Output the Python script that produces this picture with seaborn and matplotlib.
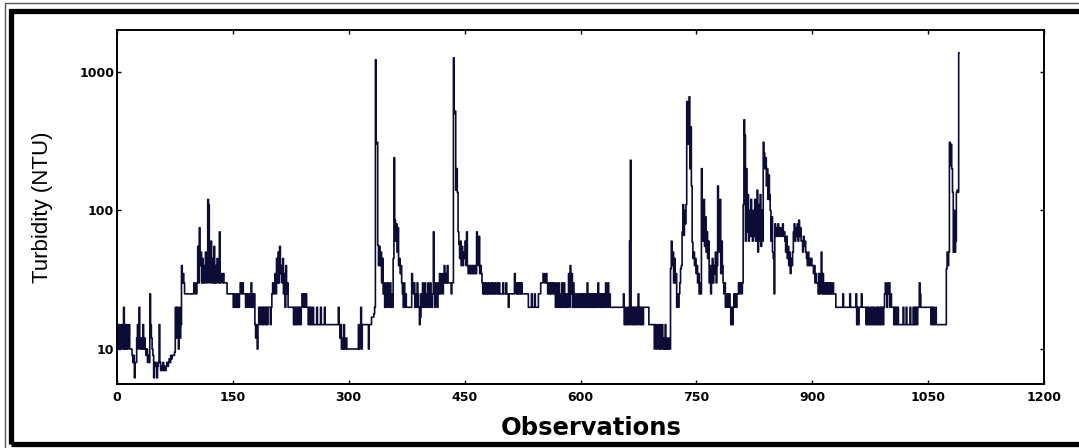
import numpy as np
import pandas as pd
import seaborn as sns
import matplotlib.pyplot as plt
from matplotlib.patches import Rectangle

# Turbidity readings (NTU) in blocks of observations
obs_000_103 = [10, 15, 10, 15, 10, 10, 15, 12, 10, 20, 10, 15, 10, 15, 10, 12, 15, 10, 10,
               10, 9, 8, 9, 6.2, 8, 8, 12, 15, 10, 20, 12,
               10, 12, 10, 15, 10, 12, 10, 9, 10, 8, 9, 8, 25, 15, 12, 10, 9,
               6.2, 8, 7.5, 8, 6.2, 7.5, 8, 15, 8, 7,
               7.5, 7, 8, 7, 7.5, 7, 7.5, 8, 7.5, 8, 8.5, 8, 9, 8.5, 9, 9, 9, 9.5,
               20, 12, 20, 15, 10, 20, 12, 15, 40, 30, 35, 30, 25,
               25, 25, 25, 25, 25, 25, 25, 25, 25, 25, 25, 30, 30, 25, 25]
obs_104_172 = [30, 55, 30, 75, 40, 50, 30, 45, 30, 40, 30, 50, 35,
               30, 120, 110, 30, 40, 60, 30, 45, 30, 55, 30,
               40, 30, 45, 35, 30, 70, 30, 35, 35, 30, 35, 30, 30, 30, 30,
               25, 25, 25, 25, 25, 25, 25, 25, 20, 25, 20, 20, 25, 20, 25, 20, 25,
               30, 30, 25, 30, 25, 25, 25, 20, 25, 20, 25, 25, 20]
obs_173_260 = [25, 30, 20, 25, 20, 25, 15, 12, 15, 10, 15,
               20, 15, 20, 20, 15, 20, 15, 20, 20, 15, 20, 15, 20, 20, 20, 15, 20,
               25, 30, 25, 30, 35, 25, 45, 30, 50, 30, 55, 35, 40,
               30, 45, 25, 35, 20, 40, 25, 30, 20, 20, 20, 20, 20, 20, 20,
               15, 20, 15, 20, 15, 20, 20, 15, 20, 15, 20, 25, 20, 25, 20, 25, 25, 20,
               20, 15, 20, 15, 20, 15, 15, 20, 15, 15, 15, 15, 20, 15]
obs_261_345 = [15, 15, 15, 20, 15, 15, 15, 15, 20,
               15, 15, 15, 15, 15, 15, 15, 15, 15, 15, 15, 15, 15, 15, 15, 15, 15,
               20, 15, 12, 15, 10, 12, 10, 15, 10, 10, 12,
               10, 10, 10, 10, 10, 10, 10, 10, 10, 10, 10, 10, 10, 10, 10,
               15, 10, 12, 20, 10, 15, 15, 15, 15, 15, 15, 15, 15, 10,
               15, 15, 15, 17, 17, 17, 18, 20, 1220, 300, 310, 56,
               40, 55, 40, 50, 30, 45, 25]
obs_346_440 = [30, 20, 25, 30, 20, 30, 25, 20, 30, 20, 25, 20, 45, 240,
               85, 60, 80, 50, 75, 40, 45, 35, 40, 30,
               25, 20, 30, 20, 25, 20, 20, 20, 20, 20, 20, 20, 35,
               30, 25, 30, 20, 25, 20, 30, 25, 20, 15, 17,
               25, 20, 30, 20, 25, 30, 20, 25, 20, 30, 25, 20, 30, 25, 20, 25, 70,
               25, 20, 30, 25, 20, 30, 25, 35, 25, 30, 35, 25, 30, 40, 30, 35, 30, 40,
               30, 30, 30, 30, 25, 30, 30, 1260, 500, 520, 140, 200]
obs_441_520 = [135, 70, 57, 45, 60, 40, 55, 40, 50, 45, 60, 40, 70,
               40, 35, 40, 35, 40, 35, 40, 35, 40, 35, 40, 35, 70,
               60, 40, 65, 35, 40, 35, 30, 25, 30,
               25, 30, 25, 25, 30, 25, 30, 25, 25, 30, 25, 30, 25, 25, 30, 25, 25, 30, 25, 30, 25, 25,
               25, 25, 30, 25, 25, 25, 30, 25, 25, 20,
               25, 25, 25, 25, 25, 25, 25, 35, 30, 25, 30, 25, 30]
obs_521_600 = [25, 30, 25, 30, 25, 25, 25, 25, 25, 25, 25, 25, 20,
               20, 20, 20, 25, 20, 20, 20, 25, 20, 20, 20, 20, 25,
               25, 25, 30, 30, 30, 35, 35, 30, 30, 35, 30,
               25, 30, 25, 30, 25, 30, 30, 25, 30, 25,
               20, 30, 20, 25, 30, 20, 25, 20, 30, 20, 25, 30, 20, 25, 20, 20,
               25, 35, 20, 40, 25, 35, 20, 30, 20, 25, 20, 25, 20, 20, 25, 20, 25]
obs_601_690 = [20, 25, 20, 25, 20, 25, 20, 25, 30, 20, 25, 20, 25, 20, 25, 20,
               25, 20, 25, 20, 25, 20, 30, 25, 20, 25, 20, 25, 20, 25, 20, 25,
               30, 20, 25, 30, 20, 25, 20, 20, 20,
               20, 20, 20, 20, 20, 20, 20, 20, 20, 20, 20, 20, 20, 20, 25,
               15, 20, 15, 15, 20, 15, 15, 60, 230, 15, 20,
               15, 20, 15, 20, 15, 20, 15, 25,
               20, 15, 20, 15, 20, 15, 20, 20, 20, 20, 20, 20, 20, 15, 15]
obs_691_760 = [15, 15, 15, 15,
               15, 10, 15, 12, 10, 15, 12, 10, 15, 10, 12, 15, 10, 12, 10, 15, 10, 12, 10, 10, 12, 10,
               38, 60, 40, 50, 30, 45, 30, 35, 20, 25, 20, 25, 30,
               38, 40, 70, 110, 66, 100, 80, 110, 610, 440, 300, 660, 200, 400,
               150, 59, 45, 50, 40, 45, 35, 40, 30, 35, 25, 30, 25, 200, 100, 60, 120]
obs_761_860 = [55, 90, 50, 70, 45, 60, 30, 40, 25, 30,
               45, 30, 40, 35, 50, 30, 40, 150, 100, 50, 120, 35, 60, 40,
               30, 25, 30, 20, 25, 20, 25, 20, 25, 20, 15, 20, 15,
               20, 25, 20, 25, 20, 25, 25, 30, 25, 30, 30, 25, 30,
               110, 450, 350, 60, 200,
               70, 130, 60, 100, 65, 120, 80, 60, 100, 65, 120, 60, 90,
               140, 50, 110, 60, 130, 55, 100, 60, 310,
               260, 200, 240, 150, 200, 120, 180, 130,
               100, 60, 90, 50, 45, 25, 80, 65, 75, 65, 80, 70, 65, 75, 70]
obs_861_960 = [65, 80, 65, 70, 60, 50, 65, 45, 55, 40, 50, 35, 45, 40, 50,
               70, 80, 60, 75, 65, 80, 60, 85, 65, 75, 60, 60, 50, 65, 55, 60, 50,
               45, 40, 50, 40, 45, 40, 45, 40, 40, 35, 40, 30, 35, 30,
               30, 25, 35, 25, 30, 50, 25, 35, 25, 30, 25, 30,
               25, 30, 25, 30, 25, 30, 25, 25, 30, 25, 25, 25, 20, 20, 20,
               20, 20, 20, 20, 20, 20, 25, 20, 20, 20, 20, 20, 20, 20, 20, 25,
               20, 20, 20, 20, 20, 20, 20, 25, 15, 20, 15]
obs_961_1090 = [20, 20, 20, 25, 20, 20, 20, 20, 20, 15,
                20, 15, 20, 15, 15, 20, 15, 20, 15, 20, 15, 15, 20, 15, 20, 15, 20, 15, 20, 15, 20, 15, 20,
                25, 30, 25, 20, 30, 25, 30, 20, 25, 20, 20,
                20, 15, 20, 15, 20, 15, 20, 15, 15,
                15, 15, 15, 15, 20, 15, 15, 15, 20, 15, 15, 15, 15, 20, 15, 15, 15, 20, 15,
                20, 15, 20, 15, 20, 20,
                30, 25, 20, 20, 20, 20, 20, 20, 20, 20, 20, 20, 20, 20, 20,
                15, 20, 15, 20, 15, 15, 20,
                15, 15, 15, 15, 15, 15, 15, 15, 15, 15, 15, 15, 15,
                38, 50, 40, 50, 310, 210, 300, 200, 135, 50, 100, 50, 60,
                135, 140, 135, 1370]

x_ticks = [0, 150, 300, 450, 600, 750, 900, 1050, 1200]
y_ticks = [10, 100, 1000]

turbidity = (obs_000_103 + obs_104_172 + obs_173_260 + obs_261_345 + obs_346_440
             + obs_441_520 + obs_521_600 + obs_601_690 + obs_691_760 + obs_761_860
             + obs_861_960 + obs_961_1090)
df = pd.DataFrame({'Observations': np.arange(len(turbidity)), 'Turbidity': turbidity})

sns.set_style("ticks")
plt.rcParams['font.family'] = ['Liberation Sans', 'DejaVu Sans']
plt.rcParams['text.color'] = 'black'
plt.rcParams['axes.labelcolor'] = 'black'

fig = plt.figure(figsize=(10.79, 4.48), dpi=100)
ax = fig.add_axes([0.1084, 0.143, 0.8592, 0.790])

sns.lineplot(data=df, x='Observations', y='Turbidity', ax=ax, color='#0c0c36',
             lw=1.2, drawstyle='steps-mid')

ax.set_yscale('log')
ax.set_xlim(0, 1200)
ax.set_ylim(5.6, 2000)
ax.set_xticks(x_ticks)
ax.set_xticklabels([str(t) for t in x_ticks])
ax.set_yticks(y_ticks)
ax.set_yticklabels([str(t) for t in y_ticks])
for lab in ax.get_xticklabels() + ax.get_yticklabels():
    lab.set_family(['DejaVu Sans'])
    lab.set_fontweight('bold')
    lab.set_fontsize(9)
    lab.set_color('black')
ax.minorticks_off()
ax.tick_params(direction='in', length=3, width=1, top=True, right=True, colors='black')
ax.tick_params(axis='x', pad=5)
ax.tick_params(axis='y', pad=2)
for s in ax.spines.values():
    s.set_linewidth(1.4)
    s.set_color('black')

ax.set_xlabel('Observations', fontsize=17.5, fontweight='bold', family=['DejaVu Sans'])
ax.xaxis.set_label_coords(0.512, -0.09)
ax.set_ylabel('Turbidity (NTU)', fontsize=16)
ax.yaxis.set_label_coords(-0.069, 0.5)

# double frame around the figure
fig.patches.append(Rectangle((0.005, -0.02), 1.1, 1.0133, transform=fig.transFigure,
                             fill=False, lw=1.0, ec='#555555'))
fig.patches.append(Rectangle((0.0105, 0.009), 1.1, 0.9675, transform=fig.transFigure,
                             fill=False, lw=3.8, ec='black'))

fig.savefig('out.png', dpi=100)
